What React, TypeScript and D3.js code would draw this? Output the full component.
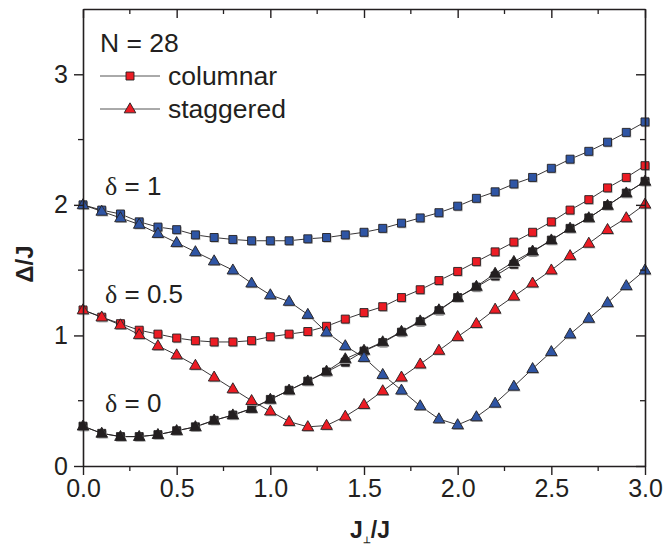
import * as d3 from 'd3';
import { useEffect, useRef } from 'react';

// J_perp / J
const xValues = [0, 0.1, 0.2, 0.3, 0.4, 0.5, 0.6, 0.7, 0.8, 0.9, 1.0, 1.1, 1.2, 1.3, 1.4, 1.5,
  1.6, 1.7, 1.8, 1.9, 2.0, 2.1, 2.2, 2.3, 2.4, 2.5, 2.6, 2.7, 2.8, 2.9, 3.0];

const delta1Columnar = [2.0, 1.96, 1.93, 1.87, 1.83, 1.81, 1.77, 1.75, 1.735, 1.725, 1.725, 1.725, 1.74,
  1.75, 1.77, 1.79, 1.82, 1.86, 1.9, 1.94, 1.99, 2.05, 2.1, 2.16, 2.21, 2.28, 2.35, 2.41, 2.48, 2.555, 2.635];
const delta1Staggered = [2.0, 1.95, 1.9, 1.85, 1.78, 1.71, 1.64, 1.57, 1.5, 1.4, 1.31, 1.26, 1.16,
  1.025, 0.92, 0.83, 0.7, 0.58, 0.46, 0.36, 0.315, 0.376, 0.48, 0.61, 0.745, 0.875, 1.01, 1.13, 1.25, 1.38, 1.5];

const delta05Columnar = [1.195, 1.14, 1.09, 1.04, 1.01, 0.98, 0.96, 0.95, 0.95, 0.96, 0.99, 1.01, 1.03,
  1.07, 1.125, 1.175, 1.22, 1.29, 1.35, 1.42, 1.49, 1.565, 1.64, 1.715, 1.79, 1.87, 1.96, 2.04, 2.13, 2.21, 2.3];
const delta05Staggered = [1.195, 1.14, 1.08, 1.005, 0.92, 0.85, 0.77, 0.68, 0.59, 0.5, 0.42, 0.34, 0.3,
  0.31, 0.38, 0.47, 0.575, 0.68, 0.78, 0.885, 0.99, 1.09, 1.2, 1.3, 1.4, 1.5, 1.61, 1.705, 1.81, 1.9, 2.005];

const delta0Columnar = [0.305, 0.25, 0.225, 0.225, 0.24, 0.27, 0.3, 0.35, 0.39, 0.44, 0.51, 0.58, 0.65,
  0.72, 0.795, 0.88, 0.945, 1.025, 1.105, 1.19, 1.29, 1.37, 1.455, 1.545, 1.64, 1.73, 1.82, 1.9, 1.995, 2.09, 2.18];
const delta0Staggered = [0.305, 0.25, 0.225, 0.225, 0.24, 0.27, 0.3, 0.35, 0.39, 0.44, 0.51, 0.58, 0.65,
  0.725, 0.82, 0.885, 0.95, 1.03, 1.11, 1.195, 1.29, 1.375, 1.475, 1.565, 1.645, 1.73, 1.82, 1.9, 1.995, 2.09, 2.18];

const xTicks = [0, 0.5, 1.0, 1.5, 2.0, 2.5, 3.0];
const yTicks = [0, 1, 2, 3];

const BLUE = '#2f55a4';
const RED = '#ec1c24';
const BLACK = '#231f20';

const series = [
  { values: delta0Columnar, color: BLACK, shape: 'square' },
  { values: delta0Staggered, color: BLACK, shape: 'triangle' },
  { values: delta05Columnar, color: RED, shape: 'square' },
  { values: delta05Staggered, color: RED, shape: 'triangle' },
  { values: delta1Columnar, color: BLUE, shape: 'square' },
  { values: delta1Staggered, color: BLUE, shape: 'triangle' },
];

const labels = [
  { text: '1', y: 195 },
  { text: '0.5', y: 303 },
  { text: '0', y: 412 },
];

const W = 666;
const H = 545;
const margin = { top: 9, right: 21, bottom: 79, left: 83 };

const squarePath = d3.symbol().type(d3.symbolSquare).size(64)();
const trianglePath = d3.symbol().type(d3.symbolTriangle).size(58)();

const Chart = () => {
  const svgRef = useRef(null);

  useEffect(() => {
    const svg = d3.select(svgRef.current);
    svg.selectAll('*').remove();
    const width = W - margin.left - margin.right;
    const height = H - margin.top - margin.bottom;
    const font = 'Liberation Sans, Arial, Helvetica, sans-serif';

    const x = d3.scaleLinear().domain([0, 3]).range([0, width]);
    const y = d3.scaleLinear().domain([0, 3.5]).range([height, 0]);

    const g = svg.append('g').attr('transform', `translate(${margin.left},${margin.top})`);

    // series lines + markers
    const line = d3.line<number>()
      .x((_, i) => x(xValues[i]))
      .y(d => y(d));

    series.forEach(s => {
      g.append('path')
        .attr('d', line(s.values))
        .attr('fill', 'none')
        .attr('stroke', BLACK)
        .attr('stroke-width', 0.9);
    });

    series.forEach(s => {
      const pts = g.append('g');
      const path = s.shape === 'square' ? squarePath : trianglePath;
      const dy = s.shape === 'square' ? 0 : 0.5;
      pts.selectAll('.shadow')
        .data(s.values)
        .enter()
        .append('path')
        .attr('d', path)
        .attr('transform', (d, i) => `translate(${x(xValues[i]) + 1},${y(d) + dy + 1.2})`)
        .attr('fill', '#b5b5b5');
      pts.selectAll('.mark')
        .data(s.values)
        .enter()
        .append('path')
        .attr('d', path)
        .attr('transform', (d, i) => `translate(${x(xValues[i])},${y(d) + dy})`)
        .attr('fill', s.color)
        .attr('stroke', BLACK)
        .attr('stroke-width', 0.9);
    });

    // axes frame
    const axisStroke = (sel) => {
      sel.select('.domain').attr('stroke', BLACK).attr('stroke-width', 1.6);
      sel.selectAll('.tick line').attr('stroke', BLACK).attr('stroke-width', 1.4);
    };

    const minorX = d3.range(0.25, 3, 0.5);
    const minorY = d3.range(0.5, 3.5, 1);

    const bottom = g.append('g')
      .attr('transform', `translate(0,${height})`)
      .call(d3.axisBottom(x).tickValues(xTicks).tickSize(9).tickSizeOuter(0).tickFormat(d3.format('.1f')));
    axisStroke(bottom);
    bottom.selectAll('text')
      .attr('fill', BLACK)
      .style('font-family', font)
      .style('font-size', '25px')
      .attr('y', 13);

    const left = g.append('g')
      .call(d3.axisLeft(y).tickValues(yTicks).tickSize(9).tickSizeOuter(0).tickFormat(d3.format('d')));
    axisStroke(left);
    left.selectAll('text')
      .attr('fill', BLACK)
      .style('font-family', font)
      .style('font-size', '25px')
      .attr('x', -15);

    const top = g.append('g')
      .call(d3.axisBottom(x).tickValues(xTicks).tickSize(9).tickSizeOuter(0).tickFormat(() => ''));
    axisStroke(top);

    const right = g.append('g')
      .attr('transform', `translate(${width},0)`)
      .call(d3.axisLeft(y).tickValues(yTicks).tickSize(9).tickSizeOuter(0).tickFormat(() => ''));
    axisStroke(right);

    // minor ticks
    const minor = g.append('g').attr('stroke', BLACK).attr('stroke-width', 1.3);
    minorX.forEach(v => {
      minor.append('line').attr('x1', x(v)).attr('x2', x(v)).attr('y1', height).attr('y2', height + 5);
      minor.append('line').attr('x1', x(v)).attr('x2', x(v)).attr('y1', 0).attr('y2', 5);
    });
    minorY.forEach(v => {
      minor.append('line').attr('x1', 0).attr('x2', -5).attr('y1', y(v)).attr('y2', y(v));
      minor.append('line').attr('x1', width).attr('x2', width - 5).attr('y1', y(v)).attr('y2', y(v));
    });

    // axis titles
    const xt = svg.append('text')
      .attr('x', 370)
      .attr('y', 538)
      .attr('text-anchor', 'middle')
      .attr('fill', BLACK)
      .style('font-family', font)
      .style('font-size', '23px')
      .style('font-weight', 'bold');
    xt.append('tspan').text('J');
    xt.append('tspan').text('\u22a5').style('font-size', '9px').attr('dy', 5);
    xt.append('tspan').text('/J').attr('dy', -5);

    svg.append('text')
      .attr('transform', 'translate(33,264) rotate(-90)')
      .attr('text-anchor', 'middle')
      .attr('fill', BLACK)
      .style('font-family', font)
      .style('font-size', '24px')
      .style('font-weight', 'bold')
      .text('\u0394/J');

    // legend
    svg.append('text')
      .attr('x', 100)
      .attr('y', 52)
      .attr('fill', BLACK)
      .style('font-family', font)
      .style('font-size', '26.5px')
      .text('N = 28');

    const legend = [
      { label: 'columnar', path: squarePath, y: 76, dy: 0 },
      { label: 'staggered', path: trianglePath, y: 109, dy: 0.5 },
    ];
    legend.forEach(l => {
      svg.append('line')
        .attr('x1', 100).attr('x2', 160)
        .attr('y1', l.y).attr('y2', l.y)
        .attr('stroke', '#555')
        .attr('stroke-width', 1);
      svg.append('path')
        .attr('d', l.path)
        .attr('transform', `translate(130,${l.y + l.dy})`)
        .attr('fill', RED)
        .attr('stroke', BLACK)
        .attr('stroke-width', 0.9);
      svg.append('text')
        .attr('x', 168)
        .attr('y', l.y + 9)
        .attr('fill', BLACK)
        .style('font-family', font)
        .style('font-size', '26.5px')
        .text(l.label);
    });

    // delta labels
    labels.forEach(l => {
      const t = svg.append('text')
        .attr('x', 105)
        .attr('y', l.y)
        .attr('fill', BLACK)
        .style('font-family', font)
        .style('font-size', '26px');
      t.append('tspan').text('\u03b4').style('font-family', 'Liberation Serif, Times New Roman, serif');
      t.append('tspan').text(` = ${l.text}`);
    });
  }, []);

  return <svg ref={svgRef} width={W} height={H} style={{ position: 'absolute', left: 0, top: 0, background: '#fff' }}></svg>;
};

export default function App() {
  return <Chart />;
}
